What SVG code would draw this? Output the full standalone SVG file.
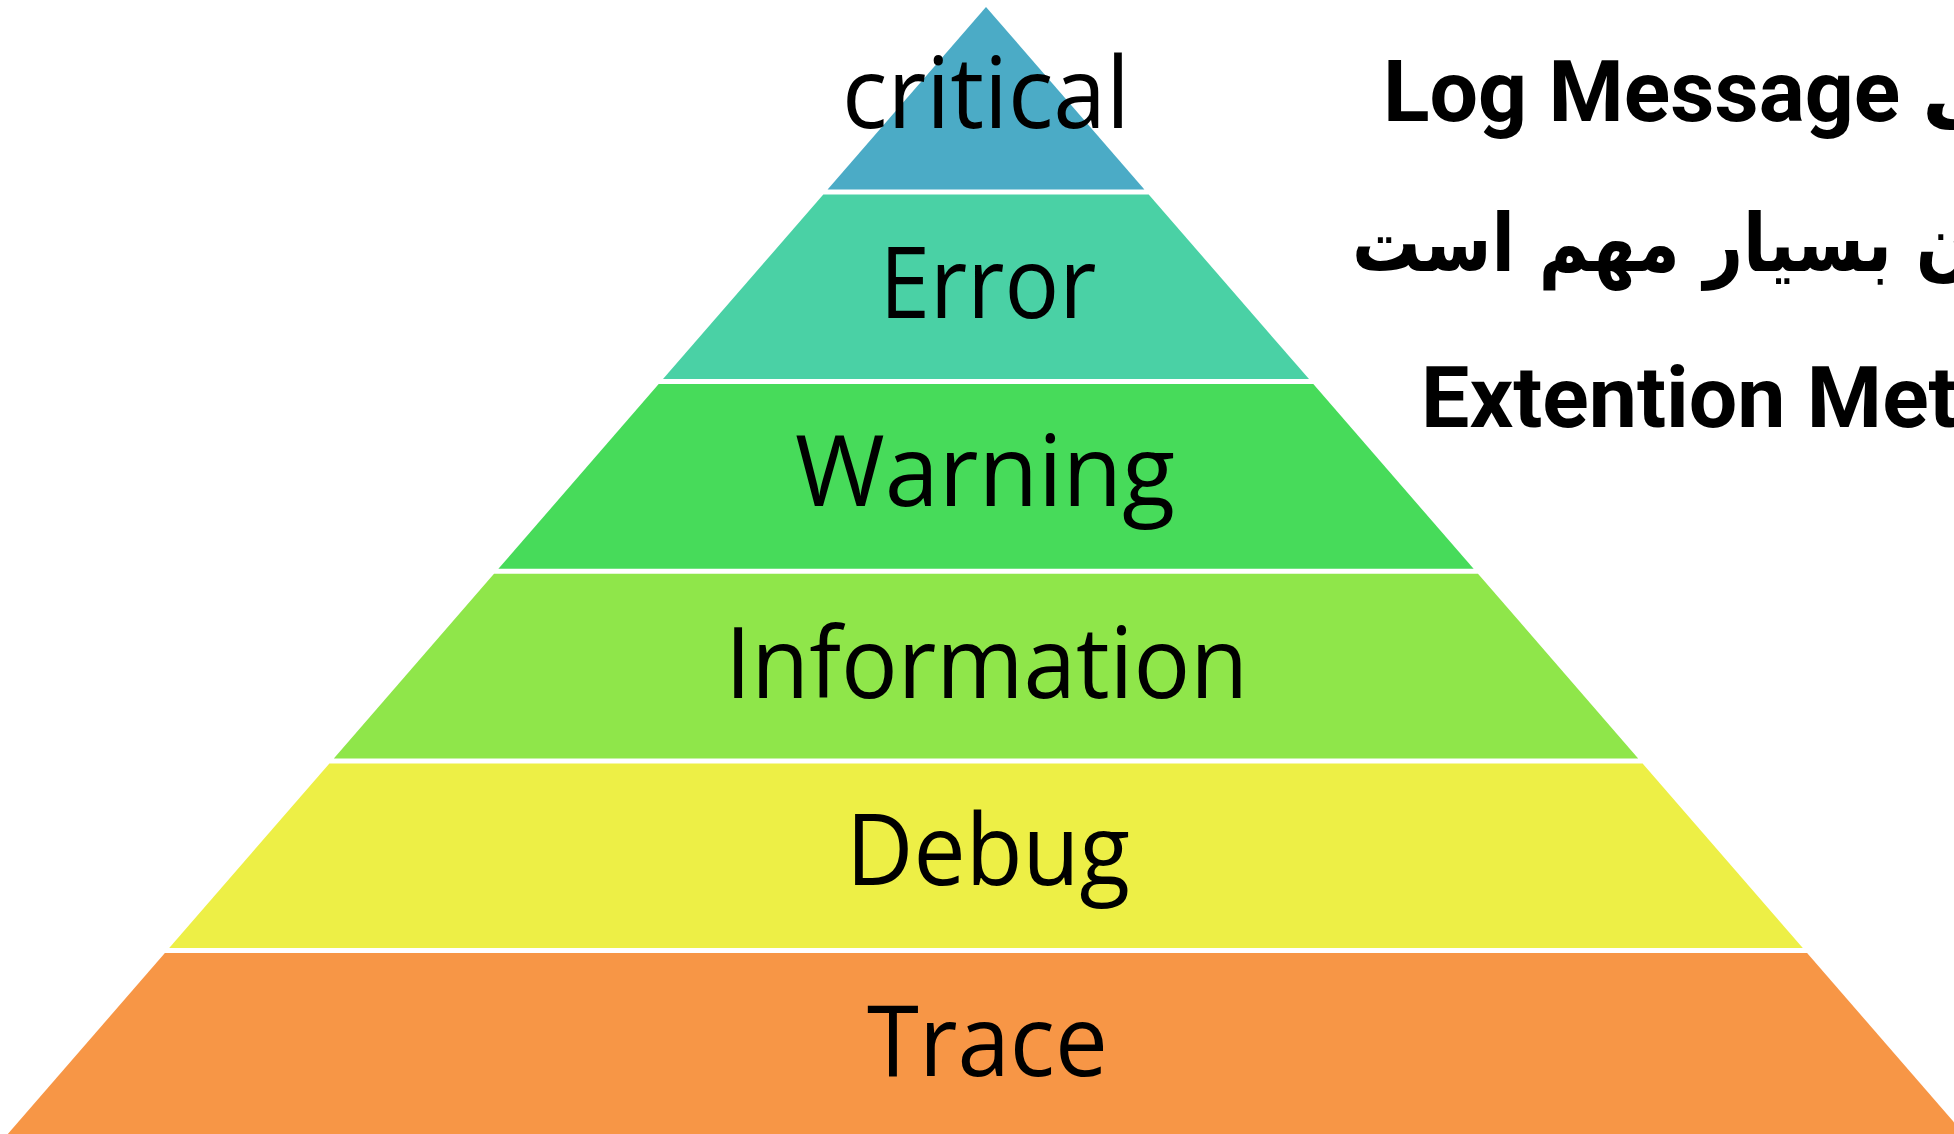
<svg xmlns="http://www.w3.org/2000/svg" width="1954" height="1134" viewBox="0 0 1954 1134">
<style>
.lvl{font-family:"Open Sans","Noto Sans",sans-serif;font-size:98px;fill:#000;text-anchor:middle}
.en{font-family:Roboto,"DejaVu Sans",sans-serif;font-weight:bold;font-size:86px;fill:#000}
.fa{font-family:"DejaVu Sans",sans-serif;font-weight:bold;font-size:80px;fill:#000}
</style>
<rect width="1954" height="1134" fill="#ffffff"/>
<g id="critical">
<polygon points="986,7 1144.4,189.5 827.6,189.5" fill="#4BABC6"/>
<text class="lvl" x="986" y="128" textLength="288" lengthAdjust="spacingAndGlyphs">critical</text>
</g>
<g id="error">
<polygon points="823.3,194.5 1148.7,194.5 1309,379.1 663,379.1" fill="#4AD1A5"/>
<text class="lvl" x="988" y="318" textLength="217" lengthAdjust="spacingAndGlyphs">Error</text>
</g>
<g id="warning">
<polygon points="658.7,384.1 1313.3,384.1 1473.6,568.8 498.4,568.8" fill="#47DB5A"/>
<text class="lvl" x="985" y="506" textLength="380" lengthAdjust="spacingAndGlyphs">Warning</text>
</g>
<g id="information">
<polygon points="494,573.8 1478,573.8 1638.2,758.4 333.8,758.4" fill="#8FE64A"/>
<text class="lvl" x="986.5" y="698" textLength="523" lengthAdjust="spacingAndGlyphs">Information</text>
</g>
<g id="debug">
<polygon points="329.4,763.4 1642.6,763.4 1802.8,948 169.2,948" fill="#EDEF46"/>
<text class="lvl" x="988" y="885" textLength="284" lengthAdjust="spacingAndGlyphs">Debug</text>
</g>
<g id="trace">
<polygon points="164.9,953 1807.1,953 1964.2,1134 7.8,1134" fill="#F79646"/>
<text class="lvl" x="987.5" y="1076" textLength="241" lengthAdjust="spacingAndGlyphs">Trace</text>
</g>
<g id="connectors"></g>
<g id="caption">
<text class="en" x="1383" y="121">Log Message ی</text>
<text class="fa" x="1352" y="271" textLength="622" lengthAdjust="spacingAndGlyphs">ن بسیار مهم است</text>
<text class="en" x="1421" y="427">Extention Met</text>
</g>
</svg>
